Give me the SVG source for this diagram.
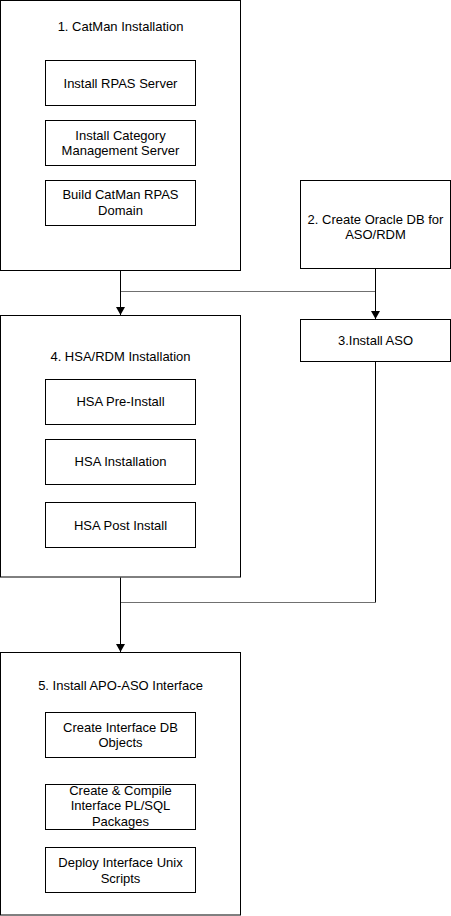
<svg xmlns="http://www.w3.org/2000/svg" width="451" height="916" viewBox="0 0 451 916">
<style>
rect{fill:#fff;stroke:#000;stroke-width:1}
text{font-family:"Liberation Sans",Arial,sans-serif;font-size:13px;fill:#000;text-anchor:middle}
.c{fill:none;stroke:#000;stroke-width:1}
.h{fill:none;stroke:#707070;stroke-width:1}
</style>
<defs>
<marker id="ah" markerUnits="userSpaceOnUse" markerWidth="9" markerHeight="9" refX="8" refY="4.5" orient="auto">
<path d="M0,0 L8,4.5 L0,9 z" fill="#000"/>
</marker>
</defs>
<rect x="0" y="0" width="451" height="916" style="stroke:none"/>
<g id="n1">
<rect x="0.5" y="0.5" width="240" height="270"/>
<text x="120.5" y="30.6">1. CatMan Installation</text>
<rect x="45.5" y="60.5" width="150" height="45"/>
<text x="120.5" y="87.6">Install RPAS Server</text>
<rect x="45.5" y="120.5" width="150" height="45"/>
<text x="120.5" y="139.8">Install Category</text>
<text x="120.5" y="155.4">Management Server</text>
<rect x="45.5" y="180.5" width="150" height="45"/>
<text x="120.5" y="199.4">Build CatMan RPAS</text>
<text x="120.5" y="215">Domain</text>
</g>
<g id="n2">
<rect x="300.5" y="180.5" width="150" height="88"/>
<text x="375.5" y="223.5">2. Create Oracle DB for</text>
<text x="375.5" y="238.5">ASO/RDM</text>
</g>
<g id="n3">
<rect x="300.5" y="319.5" width="150" height="42"/>
<text x="375.5" y="345.3">3.Install ASO</text>
</g>
<g id="n4">
<rect x="0.5" y="315.5" width="240" height="261.5"/>
<text x="120.5" y="360.6">4. HSA/RDM Installation</text>
<rect x="45.5" y="379.5" width="150" height="45"/>
<text x="120.5" y="405.6">HSA Pre-Install</text>
<rect x="45.5" y="439.5" width="150" height="45"/>
<text x="120.5" y="465.6">HSA Installation</text>
<rect x="45.5" y="502.5" width="150" height="45"/>
<text x="120.5" y="529.6">HSA Post Install</text>
</g>
<g id="n5">
<rect x="0.5" y="652.5" width="240" height="262.5"/>
<text x="120.5" y="689.6">5. Install APO-ASO Interface</text>
<rect x="45.5" y="712.5" width="150" height="45"/>
<text x="120.5" y="731.6">Create Interface DB</text>
<text x="120.5" y="747.3">Objects</text>
<rect x="45.5" y="784.5" width="150" height="45"/>
<text x="120.5" y="794.6">Create &amp; Compile</text>
<text x="120.5" y="810.3">Interface PL/SQL</text>
<text x="120.5" y="826">Packages</text>
<rect x="45.5" y="847.5" width="150" height="45"/>
<text x="120.5" y="867.3">Deploy Interface Unix</text>
<text x="120.5" y="883">Scripts</text>
</g>
<g id="connectors">
<path class="c" d="M120.5 271 V315" marker-end="url(#ah)"/>
<path class="c" d="M375.5 269 V319" marker-end="url(#ah)"/>
<path class="h" d="M121 291.5 H375"/>
<path class="c" d="M120.5 577.5 V652" marker-end="url(#ah)"/>
<path class="c" d="M375.5 362 V602"/>
<path class="h" d="M376 602.5 H121"/>
</g>
</svg>
